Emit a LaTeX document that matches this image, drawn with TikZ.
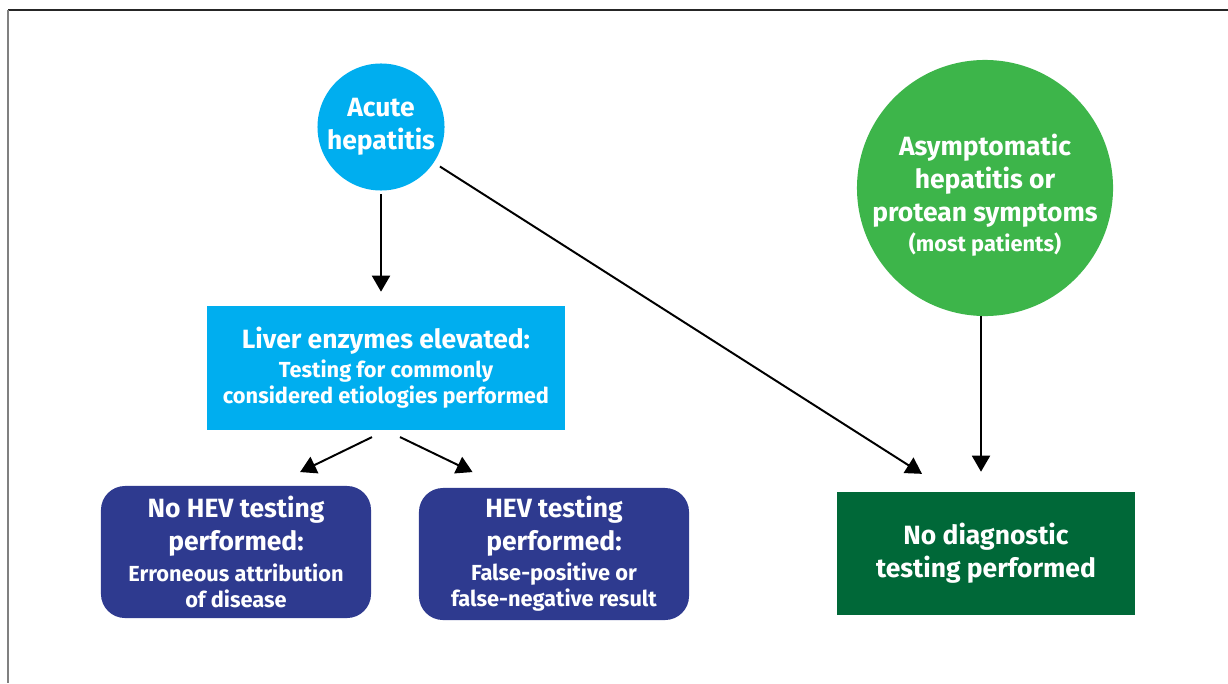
\documentclass[tikz,border=0pt]{standalone}
\usepackage{fontspec}
\setmainfont{Fira Sans}
\usetikzlibrary{arrows.meta,shapes}
\definecolor{hepcyan}{HTML}{00AEEF}
\definecolor{hepgreen}{HTML}{3DB54A}
\definecolor{hepdkgreen}{HTML}{006838}
\definecolor{hepnavy}{HTML}{2E3A8F}
\newcommand{\bigtxt}{\fontsize{18.8}{23.5}\selectfont\bfseries}
\newcommand{\smalltxt}{\fontsize{15.5}{19}\selectfont\bfseries}
\tikzset{
  disc/.style={circle, fill=#1, text=white, align=center, inner sep=0pt, font=\bigtxt},
  box/.style={rectangle, fill=#1, text=white, align=center, inner sep=0pt, font=\bigtxt},
  arr/.style={-{Triangle[length=0.4cm,width=0.45cm]}, line width=1.4pt}
}

\begin{document}
\begin{tikzpicture}[x=0.025cm,y=-0.025cm]
\useasboundingbox (0,0) rectangle (1228,683);
\draw[line width=1.1pt, black!85] (8,10) -- (1228,10);
\draw[line width=1.4pt, gray] (8,10) -- (8,683);

\node[disc=hepcyan, minimum size=3.175cm] (acute) at (381,127) {Acute\\hepatitis};
\node[disc=hepgreen, minimum size=6.4cm] (asympt) at (985,188) {};
\node[text=white, align=center, font=\bigtxt] (asympttxt) at (985,195)
    {Asymptomatic\\hepatitis or\\protean symptoms\\[-2pt]{\smalltxt (most patients)}};
\node[box=hepcyan, minimum width=8.95cm, minimum height=3.1cm] (liver) at (386,368)
    {Liver enzymes elevated:\\[-3pt]{\smalltxt Testing for commonly}\\[-5pt]{\smalltxt considered etiologies performed}};
\node[box=hepnavy, rounded corners=0.6cm, minimum width=6.75cm, minimum height=3.3cm] (nohev) at (236,552)
    {No HEV testing\\performed:\\[-2pt]{\smalltxt Erroneous attribution}\\[-5pt]{\smalltxt of disease}};
\node[box=hepnavy, rounded corners=0.6cm, minimum width=6.75cm, minimum height=3.3cm] (hev) at (554,554)
    {HEV testing\\performed:\\[-2pt]{\smalltxt False-positive or}\\[-5pt]{\smalltxt false-negative result}};
\node[box=hepdkgreen, minimum width=7.45cm, minimum height=3.075cm] (nodiag) at (986,553.5)
    {No diagnostic\\testing performed};

\draw[arr, shorten <=0.08cm, shorten >=0.35cm] (acute.south) -- (liver.north -| acute.south);
\draw[arr, shorten <=0.18cm, shorten >=0.83cm] (acute.-34) -- ([xshift=-0.9cm]nodiag.north);
\draw[arr, shorten >=0.5cm] ([xshift=-0.1cm]asympt.south) -- ([xshift=-0.1cm]asympt.south |- nodiag.north);
\draw[arr, shorten <=0.39cm, shorten >=0.78cm] (liver.south) -- ([xshift=0.9cm]nohev.north);
\draw[arr, shorten <=0.39cm, shorten >=0.9cm] (liver.south) -- ([xshift=-1.225cm]hev.north);
\end{tikzpicture}
\end{document}
